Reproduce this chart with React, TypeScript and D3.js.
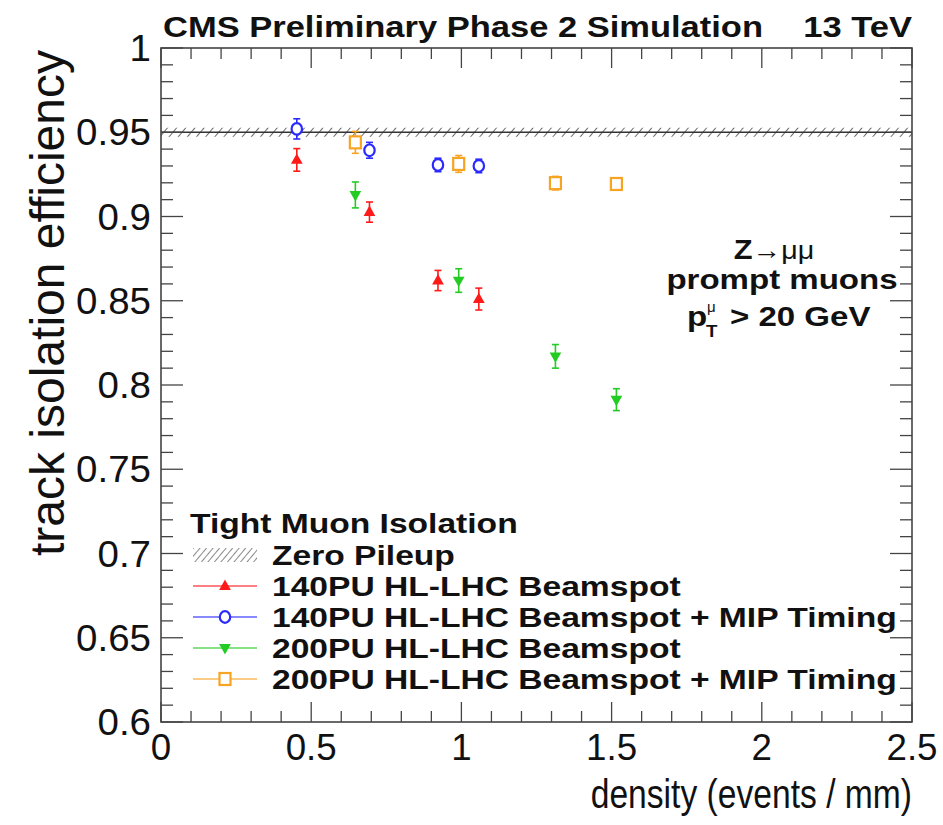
import React from "react";
import * as d3 from "d3";

// ---------- data ----------
const xs140 = [0.452, 0.694, 0.922, 1.058];
const eff140 = [0.9336, 0.9026, 0.862, 0.851];
const err140 = [0.0067, 0.006, 0.006, 0.0065];
const eff140MIP = [0.952, 0.9393, 0.9306, 0.93];
const err140MIP = [0.006, 0.0047, 0.004, 0.004];

const xs200 = [0.647, 0.991, 1.313, 1.516];
const eff200 = [0.9128, 0.862, 0.817, 0.7913];
const err200 = [0.0077, 0.007, 0.007, 0.0065];
const eff200MIP = [0.944, 0.9312, 0.9198, 0.9193];
const err200MIP = [0.0065, 0.005, 0.004, 0.003];

const zeroPileup = 0.95;
const zeroPileupErr = 0.0015;

const xTickLabels = ["0", "0.5", "1", "1.5", "2", "2.5"];
const yTickLabels = ["0.6", "0.65", "0.7", "0.75", "0.8", "0.85", "0.9", "0.95", "1"];

const legendLabels = [
  "Zero Pileup",
  "140PU HL-LHC Beamspot",
  "140PU HL-LHC Beamspot + MIP Timing",
  "200PU HL-LHC Beamspot",
  "200PU HL-LHC Beamspot + MIP Timing",
];

// ---------- style ----------
const W = 943;
const H = 825;
const FONT = "'Liberation Sans', Arial, Helvetica, sans-serif";
const SX = 1.2;
const RED = "#ff1a1a";
const BLUE = "#2a2aff";
const GREEN = "#22cc22";
const ORANGE = "#f7a423";

type TProps = {
  x: number;
  y: number;
  size: number;
  bold?: boolean;
  anchor?: "start" | "middle" | "end";
  sx?: number;
  children: React.ReactNode;
};
const T = ({ x, y, size, bold, anchor = "start", sx = SX, children }: TProps) => (
  <text
    transform={`translate(${x},${y}) scale(${sx},1)`}
    fontSize={size}
    fontWeight={bold ? "bold" : "normal"}
    textAnchor={anchor}
    fontFamily={FONT}
    fill="#111"
  >
    {children}
  </text>
);

type Shape = "tri" | "circle" | "tridown" | "square";

const Marker = ({ x, y, shape, color }: { x: number; y: number; shape: Shape; color: string }) => {
  const s = 6.5;
  if (shape === "tri")
    return <path d={`M${x},${y - s} L${x + s * 0.9},${y + s * 0.6} L${x - s * 0.9},${y + s * 0.6}Z`} fill={color} />;
  if (shape === "tridown")
    return <path d={`M${x},${y + s} L${x + s * 0.9},${y - s * 0.6} L${x - s * 0.9},${y - s * 0.6}Z`} fill={color} />;
  if (shape === "circle")
    return <ellipse cx={x} cy={y} rx={5.2} ry={5.8} fill="white" stroke={color} strokeWidth={2.2} />;
  return <rect x={x - 5.5} y={y - 6} width={11} height={12} fill="white" stroke={color} strokeWidth={2.2} />;
};

export default function App() {
  const x = d3.scaleLinear().domain([0, 2.5]).range([161, 912]);
  const y = d3.scaleLinear().domain([0.6, 1]).range([722, 48]);
  const [x0, x1] = x.range();
  const [y0, y1] = y.range();

  const xMajor = d3.range(0, 2.5001, 0.5);
  const xMinor = d3.range(0, 2.5001, 0.1);
  const yMajor = d3.range(0.6, 1.0001, 0.05);
  const yMinor = d3.range(0.6, 1.0001, 0.01);

  const series = [
    { xs: xs140, ys: eff140, es: err140, shape: "tri" as Shape, color: RED },
    { xs: xs140, ys: eff140MIP, es: err140MIP, shape: "circle" as Shape, color: BLUE },
    { xs: xs200, ys: eff200, es: err200, shape: "tridown" as Shape, color: GREEN },
    { xs: xs200, ys: eff200MIP, es: err200MIP, shape: "square" as Shape, color: ORANGE },
  ];

  const legY = [555, 586, 617, 648, 679];

  return (
    <div style={{ position: "absolute", left: 0, top: 0 }}>
      <svg width={W} height={H} viewBox={`0 0 ${W} ${H}`} style={{ display: "block", background: "white" }}>
        <defs>
          <pattern id="hatch" width="7" height="7" patternUnits="userSpaceOnUse" patternTransform="rotate(40)">
            <line x1="0" y1="0" x2="0" y2="7" stroke="#444" strokeWidth="1.6" />
          </pattern>
          <pattern id="hatchLeg" width="5" height="5" patternUnits="userSpaceOnUse" patternTransform="rotate(40)">
            <line x1="0" y1="0" x2="0" y2="5" stroke="#555" strokeWidth="1.4" />
          </pattern>
        </defs>

        {/* zero pileup band */}
        <rect
          x={x0}
          width={x1 - x0}
          y={y(zeroPileup + zeroPileupErr) - 2}
          height={y(zeroPileup - zeroPileupErr) - y(zeroPileup + zeroPileupErr) + 4}
          fill="url(#hatch)"
        />
        <line x1={x0} x2={x1} y1={y(zeroPileup)} y2={y(zeroPileup)} stroke="#333" strokeWidth={1.6} />

        {/* frame */}
        <rect x={x0} y={y1} width={x1 - x0} height={y0 - y1} fill="none" stroke="#444" strokeWidth={1.6} />

        {/* x ticks */}
        {xMinor.map((v, i) => {
          const major = xMajor.some((m) => Math.abs(m - v) < 1e-6);
          const len = major ? 20 : 11;
          return (
            <g key={"xt" + i} stroke="#444" strokeWidth={1.3}>
              <line x1={x(v)} x2={x(v)} y1={y0} y2={y0 - len} />
              <line x1={x(v)} x2={x(v)} y1={y1} y2={y1 + len} />
            </g>
          );
        })}
        {/* y ticks */}
        {yMinor.map((v, i) => {
          const major = yMajor.some((m) => Math.abs(m - v) < 1e-6);
          const len = major ? 22 : 12;
          return (
            <g key={"yt" + i} stroke="#444" strokeWidth={1.3}>
              <line x1={x0} x2={x0 + len} y1={y(v)} y2={y(v)} />
              <line x1={x1} x2={x1 - len} y1={y(v)} y2={y(v)} />
            </g>
          );
        })}

        {/* tick labels */}
        {xMajor.map((v, i) => (
          <T key={"xl" + i} x={x(v)} y={760} size={36} anchor="middle" sx={1.02}>
            {xTickLabels[i]}
          </T>
        ))}
        {yMajor.map((v, i) => (
          <T key={"yl" + i} x={151} y={y(v) + 13} size={37} anchor="end" sx={1.04}>
            {yTickLabels[i]}
          </T>
        ))}

        {/* axis titles */}
        <T x={912} y={808} size={41} anchor="end" sx={0.82}>
          density (events / mm)
        </T>
        <text
          transform={`translate(64,50) rotate(-90)`}
          fontSize={48}
          textAnchor="end"
          fontFamily={FONT}
          fill="#111"
        >
          track isolation efficiency
        </text>

        {/* header */}
        <T x={163} y={37} size={29} bold sx={1.19}>
          CMS Preliminary Phase 2 Simulation
        </T>
        <T x={912} y={37} size={29} bold anchor="end" sx={1.19}>
          13 TeV
        </T>

        {/* data */}
        {series.map((s, si) =>
          s.xs.map((xv, i) => {
            const cx = x(xv);
            const cy = y(s.ys[i]);
            const top = y(s.ys[i] + s.es[i]);
            const bot = y(s.ys[i] - s.es[i]);
            return (
              <g key={`p${si}-${i}`}>
                <g stroke={s.color} strokeWidth={1.6}>
                  <line x1={cx} x2={cx} y1={top} y2={bot} />
                  <line x1={cx - 3.5} x2={cx + 3.5} y1={top} y2={top} />
                  <line x1={cx - 3.5} x2={cx + 3.5} y1={bot} y2={bot} />
                </g>
                <Marker x={cx} y={cy} shape={s.shape} color={s.color} />
              </g>
            );
          })
        )}

        {/* annotation */}
        <g>
          <text transform="translate(774,259) scale(1.1,1)" textAnchor="middle" fontFamily={FONT} fontSize={28} fill="#111">
            <tspan fontWeight="bold">Z</tspan>
            <tspan fontSize={26}>→μμ</tspan>
          </text>
          <T x={782} y={289} size={28} bold anchor="middle" sx={1.18}>
            prompt muons
          </T>
          <T x={687} y={326} size={28} bold sx={1.18}>
            p
          </T>
          <T x={707} y={312} size={15} sx={1.0}>
            μ
          </T>
          <T x={706} y={337} size={17} bold sx={1.1}>
            T
          </T>
          <T x={730} y={326} size={28} bold sx={1.18}>
            {"> 20 GeV"}
          </T>
        </g>

        {/* legend */}
        <T x={190} y={533} size={28} bold>
          Tight Muon Isolation
        </T>
        <rect x={193} y={legY[0] - 7} width={64} height={14} fill="url(#hatchLeg)" />
        {series.map((s, i) => {
          const ly = legY[i + 1];
          return (
            <g key={"lg" + i}>
              <line x1={193} x2={257} y1={ly} y2={ly} stroke={s.color} strokeWidth={2} opacity={0.55} />
              <Marker x={225} y={ly} shape={s.shape} color={s.color} />
            </g>
          );
        })}
        {legendLabels.map((l, i) => (
          <T key={"ll" + i} x={272} y={legY[i] + 10} size={28} bold>
            {l}
          </T>
        ))}
      </svg>
    </div>
  );
}
